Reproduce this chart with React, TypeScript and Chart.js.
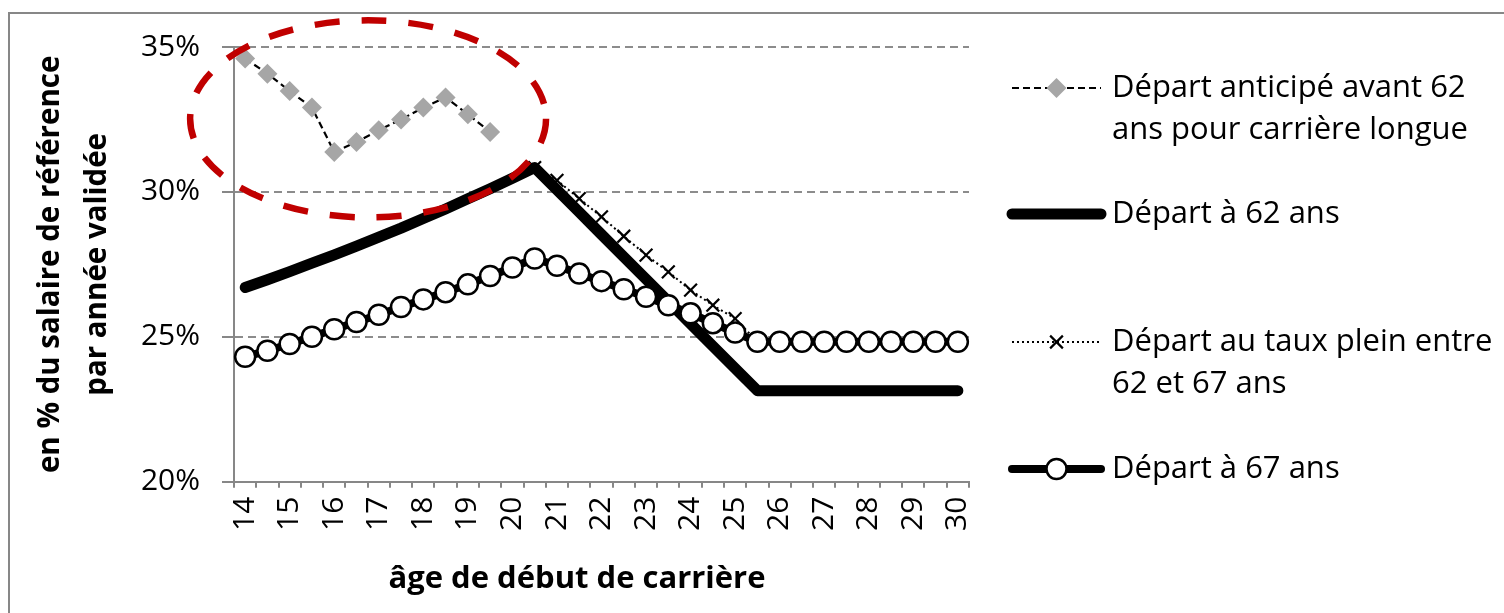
import React, { useEffect, useRef } from 'react';
import { Chart, registerables } from 'chart.js';

Chart.register(...registerables);

const FONT = "'Open Sans', sans-serif";

// Age at start of career (half-year steps)
const AGES = [
  '14', '14,5', '15', '15,5', '16', '16,5', '17', '17,5', '18', '18,5', '19', '19,5',
  '20', '20,5', '21', '21,5', '22', '22,5', '23', '23,5', '24', '24,5', '25', '25,5',
  '26', '26,5', '27', '27,5', '28', '28,5', '29', '29,5', '30',
];
const X_TICK_LABELS = [
  '14', '', '15', '', '16', '', '17', '', '18', '', '19', '',
  '20', '', '21', '', '22', '', '23', '', '24', '', '25', '',
  '26', '', '27', '', '28', '', '29', '', '30',
];

// Series (in % of reference salary per validated year)
const ANTICIPE = [
  34.6, 34.08, 33.48, 32.91, 31.38, 31.72, 32.13, 32.5, 32.91, 33.26, 32.68, 32.07,
  null, null, null, null, null, null, null, null, null, null, null, null,
  null, null, null, null, null, null, null, null, null,
];
const DEPART_62 = [
  26.7, 26.97, 27.25, 27.54, 27.83, 28.13, 28.44, 28.75, 29.08, 29.41, 29.76, 30.11,
  30.47, 30.84, 30.07, 29.3, 28.53, 27.76, 26.99, 26.22, 25.45, 24.68, 23.91, 23.14,
  23.14, 23.14, 23.14, 23.14, 23.14, 23.14, 23.14, 23.14, 23.14,
];
const TAUX_PLEIN = [
  null, null, null, null, null, null, null, null, null, null, null, null,
  null, 30.84, 30.4, 29.77, 29.14, 28.47, 27.82, 27.24, 26.61, 26.09, 25.63, 24.83,
  null, null, null, null, null, null, null, null, null,
];
const DEPART_67 = [
  24.31, 24.52, 24.75, 25.0, 25.26, 25.51, 25.76, 26.03, 26.29, 26.54, 26.81, 27.1,
  27.39, 27.7, 27.45, 27.18, 26.92, 26.64, 26.38, 26.09, 25.81, 25.47, 25.15, 24.83,
  24.83, 24.83, 24.83, 24.83, 24.83, 24.83, 24.83, 24.83, 24.83,
];

const Y_MIN = 20;
const Y_MAX = 35;
const Y_STEP = 5;

const LABEL_ANTICIPE = 'Départ anticipé avant 62 ans pour carrière longue';
const LABEL_62 = 'Départ à 62 ans';
const LABEL_TAUX = 'Départ au taux plein entre 62 et 67 ans';
const LABEL_67 = 'Départ à 67 ans';

const LEGEND_LINES = [
  ['Départ anticipé avant 62', 'ans pour carrière longue'],
  ['Départ à 62 ans'],
  ['Départ au taux plein entre', '62 et 67 ans'],
  ['Départ à 67 ans'],
];

const Y_TITLE = ['en % du salaire de référence', 'par année validée'];
const X_TITLE = 'âge de début de carrière';

// Highlight ellipse (in data units: category index / percent)
const ELLIPSE = { centerIndex: 5.52, centerValue: 32.52, halfWidthIndex: 7.99, halfHeightValue: 3.4 };

// Layout
const W = 1504;
const H = 613;
const PLOT_LEFT = 234;
const PLOT_RIGHT = 969;
const PLOT_TOP = 47;
const PLOT_BOTTOM = 481.7;
const X_TITLE_CX = 577;
const X_TITLE_CY = 579;
const LEG_X1 = 1012;
const LEG_X2 = 1101;
const LEG_TEXT_X = 1112;
const LEG_ROW_Y = [88, 214, 342, 469];
const LEG_LH = 42;
const GREY = '#878787';

const framePlugin = {
  id: 'frame',
  beforeDraw(chart: any) {
    const ctx = chart.ctx;
    ctx.save();
    ctx.fillStyle = '#ffffff';
    ctx.fillRect(0, 0, chart.width, chart.height);
    ctx.fillStyle = GREY;
    ctx.fillRect(8, 12, 2, chart.height);
    ctx.fillRect(8, 12, chart.width, 2);
    ctx.restore();
  },
  afterDraw(chart: any) {
    const ctx = chart.ctx;
    ctx.save();
    ctx.fillStyle = '#000';
    ctx.font = `bold 31px ${FONT}`;
    ctx.textAlign = 'center';
    ctx.textBaseline = 'middle';
    ctx.fillText(X_TITLE, X_TITLE_CX, X_TITLE_CY);
    ctx.restore();
  },
};

const ellipsePlugin = {
  id: 'highlightEllipse',
  afterDatasetsDraw(chart: any) {
    const ctx = chart.ctx;
    const xs = chart.scales.x;
    const ys = chart.scales.y;
    const cx = xs.getPixelForValue(ELLIPSE.centerIndex);
    const cy = ys.getPixelForValue(ELLIPSE.centerValue);
    const rx = Math.abs(xs.getPixelForValue(ELLIPSE.centerIndex + ELLIPSE.halfWidthIndex) - cx);
    const ry = Math.abs(ys.getPixelForValue(ELLIPSE.centerValue + ELLIPSE.halfHeightValue) - cy);
    ctx.save();
    ctx.strokeStyle = '#C00000';
    ctx.lineWidth = 6.5;
    ctx.setLineDash([25, 22]);
    ctx.beginPath();
    ctx.ellipse(cx, cy, rx, ry, 0, 0, Math.PI * 2);
    ctx.stroke();
    ctx.restore();
  },
};

function drawMarker(ctx: CanvasRenderingContext2D, d: any, x: number, y: number) {
  const r = d.pointRadius || 0;
  if (!r) return;
  ctx.save();
  ctx.setLineDash([]);
  ctx.fillStyle = d.pointBackgroundColor;
  ctx.strokeStyle = d.pointBorderColor;
  ctx.lineWidth = d.pointBorderWidth || 0;
  ctx.beginPath();
  if (d.pointStyle === 'rectRot') {
    ctx.moveTo(x, y - r);
    ctx.lineTo(x + r, y);
    ctx.lineTo(x, y + r);
    ctx.lineTo(x - r, y);
    ctx.closePath();
    ctx.fill();
  } else if (d.pointStyle === 'crossRot') {
    const o = r * Math.SQRT1_2;
    ctx.moveTo(x - o, y - o);
    ctx.lineTo(x + o, y + o);
    ctx.moveTo(x + o, y - o);
    ctx.lineTo(x - o, y + o);
    ctx.stroke();
  } else {
    ctx.arc(x, y, r, 0, Math.PI * 2);
    ctx.fill();
    if (ctx.lineWidth > 0) ctx.stroke();
  }
  ctx.restore();
}

const legendPlugin = {
  id: 'sideLegend',
  afterDraw(chart: any) {
    const ctx = chart.ctx;
    const ds = chart.data.datasets;
    ctx.save();
    ds.forEach((d: any, row: number) => {
      const y = LEG_ROW_Y[row];
      ctx.save();
      ctx.strokeStyle = d.borderColor;
      ctx.lineWidth = d.borderWidth;
      ctx.setLineDash(d.borderDash || []);
      ctx.lineCap = d.borderCapStyle || 'butt';
      ctx.beginPath();
      ctx.moveTo(LEG_X1, y);
      ctx.lineTo(LEG_X2, y);
      ctx.stroke();
      ctx.restore();
      drawMarker(ctx, d, (LEG_X1 + LEG_X2) / 2, y);
      ctx.fillStyle = '#000';
      ctx.font = `31px ${FONT}`;
      ctx.textBaseline = 'middle';
      ctx.textAlign = 'left';
      LEGEND_LINES[row].forEach((line, k) => ctx.fillText(line, LEG_TEXT_X, y + k * LEG_LH));
    });
    ctx.restore();
  },
};

export default function App() {
  const ref = useRef<HTMLCanvasElement>(null);

  useEffect(() => {
    document.body.style.margin = '0';
    Chart.defaults.font.family = FONT;
    Chart.defaults.color = '#000';
    const chart = new Chart(ref.current as HTMLCanvasElement, {
      type: 'line',
      data: {
        labels: AGES,
        datasets: [
          {
            label: LABEL_ANTICIPE,
            data: ANTICIPE,
            borderColor: '#000000',
            borderWidth: 2.2,
            borderDash: [7, 4],
            pointStyle: 'rectRot',
            pointRadius: 10,
            pointBackgroundColor: '#A6A6A6',
            pointBorderColor: '#A6A6A6',
            pointBorderWidth: 0,
            clip: false,
            order: 0,
          },
          {
            label: LABEL_62,
            data: DEPART_62,
            borderColor: '#000000',
            borderWidth: 11,
            borderCapStyle: 'round',
            borderJoinStyle: 'round',
            pointRadius: 0,
            clip: false,
            order: 2,
          },
          {
            label: LABEL_TAUX,
            data: TAUX_PLEIN,
            borderColor: '#000000',
            borderWidth: 2,
            borderDash: [2, 3],
            pointStyle: 'crossRot',
            pointRadius: 9,
            pointBackgroundColor: '#000000',
            pointBorderColor: '#000000',
            pointBorderWidth: 2.2,
            clip: false,
            order: 3,
          },
          {
            label: LABEL_67,
            data: DEPART_67,
            borderColor: '#000000',
            borderWidth: 8,
            borderCapStyle: 'round',
            pointStyle: 'circle',
            pointRadius: 10,
            pointBackgroundColor: '#ffffff',
            pointBorderColor: '#000000',
            pointBorderWidth: 2.5,
            clip: false,
            order: 1,
          },
        ] as any,
      },
      options: {
        responsive: false,
        animation: false,
        events: [],
        layout: { padding: { top: PLOT_TOP, right: W - PLOT_RIGHT, bottom: 0, left: 0 } },
        plugins: { legend: { display: false }, tooltip: { enabled: false } },
        scales: {
          x: {
            type: 'category',
            offset: true,
            grid: {
              offset: true,
              drawOnChartArea: false,
              drawTicks: true,
              tickLength: 6,
              color: GREY,
              lineWidth: 2,
            },
            border: { display: true, color: GREY, width: 2 },
            ticks: {
              autoSkip: false,
              maxRotation: 90,
              minRotation: 90,
              padding: 9,
              color: '#000',
              font: { size: 30, family: FONT },
              callback: (_v: any, i: number) => X_TICK_LABELS[i],
            },
            title: { display: false },
            afterFit: (s: any) => {
              s.height = H - PLOT_BOTTOM;
            },
          },
          y: {
            min: Y_MIN,
            max: Y_MAX,
            ticks: {
              stepSize: Y_STEP,
              padding: 22,
              color: '#000',
              font: { size: 30, family: FONT },
              callback: (v: any) => `${v}%`,
            },
            grid: {
              color: '#8c8c8c',
              lineWidth: 2,
              drawTicks: true,
              tickLength: 12,
              tickColor: GREY,
              tickWidth: 2,
            },
            border: { display: true, color: GREY, width: 2, dash: [8, 5] },
            title: {
              display: true,
              text: Y_TITLE,
              color: '#000',
              font: { size: 29.5, weight: 'bold', family: FONT, lineHeight: 1.6 },
              padding: { top: 26.5, bottom: 0 },
            },
            afterFit: (s: any) => {
              s.width = PLOT_LEFT;
            },
          },
        },
      } as any,
      plugins: [framePlugin, ellipsePlugin, legendPlugin],
    });
    return () => chart.destroy();
  }, []);

  return <canvas ref={ref} width={W} height={H} style={{ display: 'block' }} />;
}
